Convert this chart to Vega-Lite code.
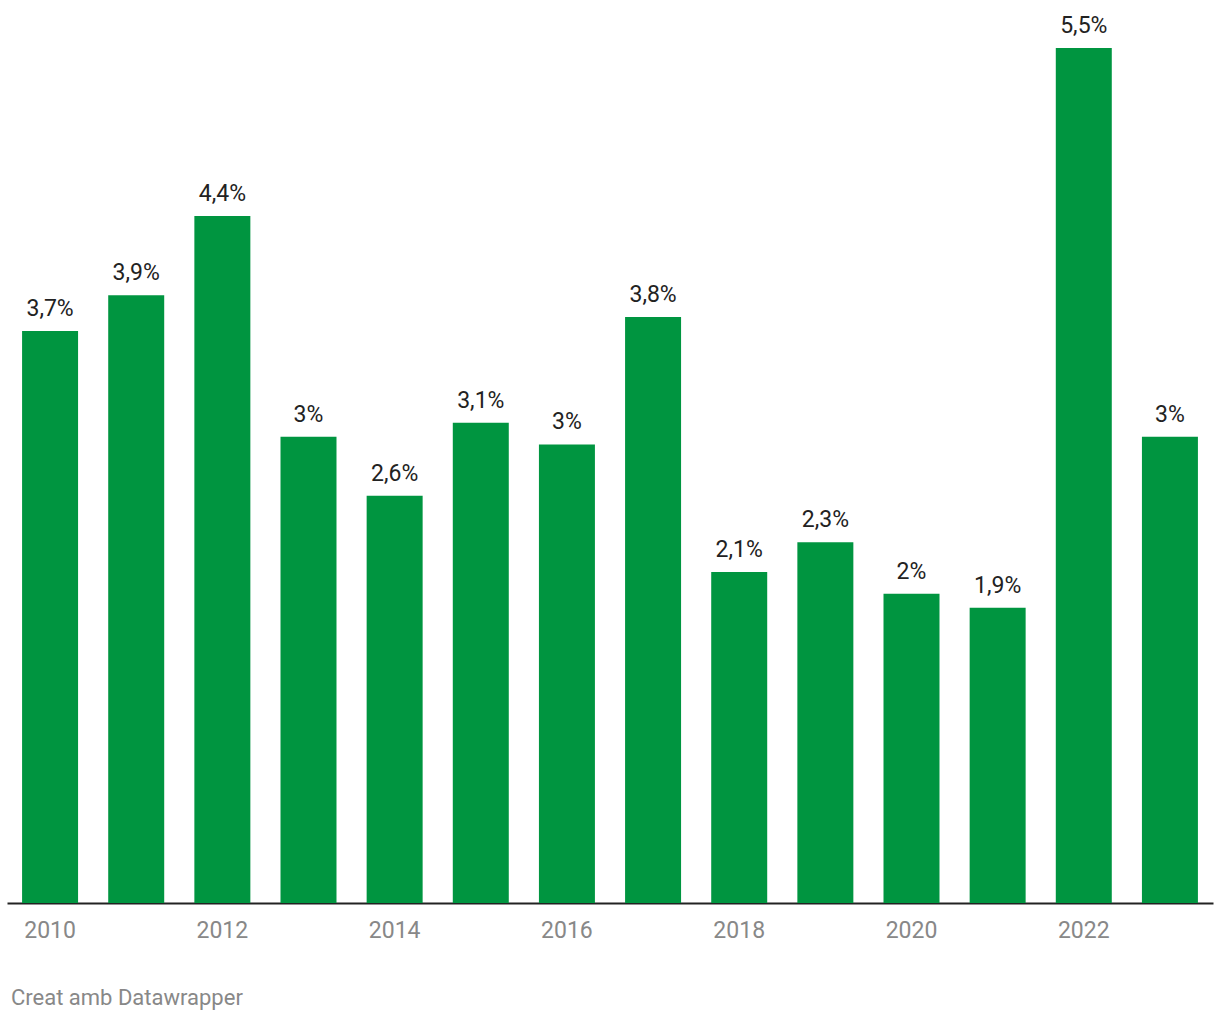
{
  "$schema": "https://vega.github.io/schema/vega-lite/v6.json",
  "width": 1206,
  "height": 855,
  "autosize": {"type": "none"},
  "padding": {"left": 7, "top": 48, "right": 7, "bottom": 117},
  "background": "white",
  "config": {"view": {"stroke": null}, "font": "Roboto"},
  "title": {
    "text": "Creat amb Datawrapper",
    "orient": "bottom",
    "anchor": "start",
    "frame": "group",
    "dx": 4,
    "offset": 46,
    "fontSize": 22,
    "fontWeight": "normal",
    "color": "#888888",
    "font": "Roboto"
  },
  "data": {
    "values": [
      {"year": "2010", "value": 3.68, "label": "3,7%"},
      {"year": "2011", "value": 3.91, "label": "3,9%"},
      {"year": "2012", "value": 4.42, "label": "4,4%"},
      {"year": "2013", "value": 3.0, "label": "3%"},
      {"year": "2014", "value": 2.62, "label": "2,6%"},
      {"year": "2015", "value": 3.09, "label": "3,1%"},
      {"year": "2016", "value": 2.95, "label": "3%"},
      {"year": "2017", "value": 3.77, "label": "3,8%"},
      {"year": "2018", "value": 2.13, "label": "2,1%"},
      {"year": "2019", "value": 2.32, "label": "2,3%"},
      {"year": "2020", "value": 1.99, "label": "2%"},
      {"year": "2021", "value": 1.9, "label": "1,9%"},
      {"year": "2022", "value": 5.5, "label": "5,5%"},
      {"year": "2023", "value": 3.0, "label": "3%"}
    ]
  },
  "encoding": {
    "x": {
      "field": "year",
      "type": "ordinal",
      "sort": null,
      "scale": {"paddingInner": 0.35, "paddingOuter": 0.175},
      "axis": {
        "title": null,
        "values": ["2010", "2012", "2014", "2016", "2018", "2020", "2022"],
        "labelAngle": 0,
        "ticks": false,
        "domainColor": "#222222",
        "domainWidth": 2,
        "labelColor": "#888888",
        "labelFontSize": 23,
        "labelFont": "Roboto",
        "labelPadding": 16,
        "grid": false
      }
    },
    "y": {
      "field": "value",
      "type": "quantitative",
      "scale": {"domain": [0, 5.5], "nice": false},
      "axis": null
    }
  },
  "layer": [
    {"mark": {"type": "bar", "color": "#009540"}},
    {
      "mark": {"type": "text", "baseline": "bottom", "dy": -10, "fontSize": 23, "color": "#222222", "font": "Roboto"},
      "encoding": {"text": {"field": "label"}}
    }
  ]
}
